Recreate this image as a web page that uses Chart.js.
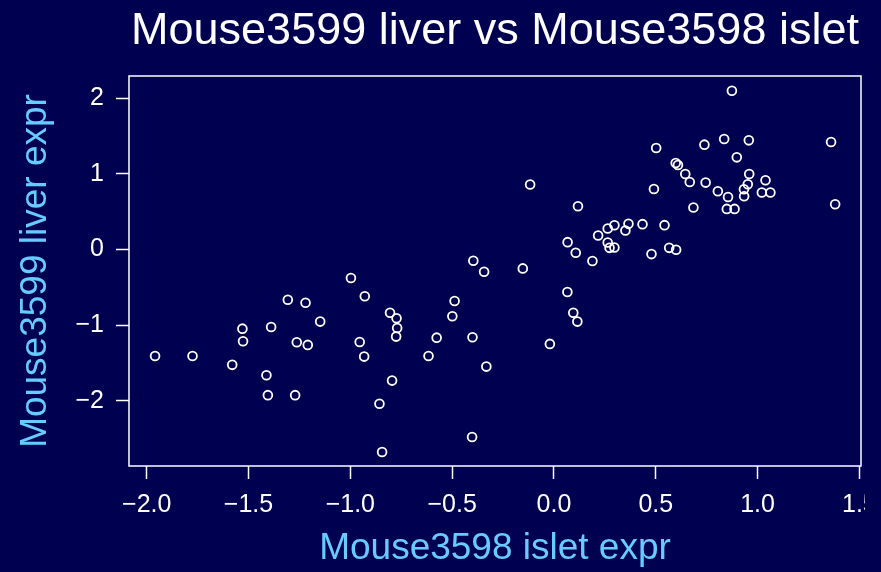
<!DOCTYPE html>
<html>
<head>
<meta charset="utf-8">
<title>Mouse3599 liver vs Mouse3598 islet</title>
<script src="https://cdn.jsdelivr.net/npm/chart.js@4.4.1/dist/chart.umd.min.js"></script>
<style>
  html, body { margin: 0; padding: 0; background: #000050; }
  canvas { display: block; }
</style>
</head>
<body>
<canvas id="myChart" width="881" height="572"></canvas>
<script>
// islet expression (x) and liver expression (y), one entry per mouse
const isletExpr = [
  -0.997, -0.929, -1.307, -1.220, -1.148, -1.530, -1.389, -1.527, -1.263, -1.209,
  -0.954, -0.932, -1.959, -1.775, -1.580, -1.412, -1.405, -1.271,
  0.066, 0.095, 0.115, -0.020, -0.488, -0.499, -0.805, -0.773, -0.770, -0.775,
  -0.576, -0.400, -0.616, -0.332, -0.795, -0.857, -0.402, -0.844,
  -0.117, 0.118, 0.264, 0.297, 0.217, 0.067, 0.264, 0.273, 0.297, 0.107,
  0.189, -0.396, -0.343, -0.153,
  0.874, 0.502, 0.739, 0.836, 0.957, 1.361, 0.898, 0.598, 0.609, 0.645,
  0.667, 0.745, 0.491, 0.959, 0.952, 1.039, 0.805, 0.933, 0.855, 0.934,
  1.021, 1.063, 1.381, 0.685, 0.849, 0.887, 0.366, 0.351, 0.435, 0.543,
  0.479, 0.566, 0.600
];
const liverExpr = [
  -0.379, -0.620, -0.665, -0.705, -0.955, -1.048, -1.026, -1.215, -1.228, -1.263,
  -1.224, -1.418, -1.409, -1.409, -1.527, -1.664, -1.928, -1.928,
  -0.564, -0.837, -0.955, -1.250, -0.682, -0.885, -0.837, -0.911, -1.039, -1.153,
  -1.167, -1.162, -1.409, -1.550, -1.735, -2.042, -2.482, -2.680,
  0.858, 0.572, 0.277, 0.320, 0.185, 0.096, 0.092, 0.021, 0.026, -0.045,
  -0.154, -0.150, -0.296, -0.251,
  2.099, 1.341, 1.386, 1.460, 1.443, 1.420, 1.218, 1.143, 1.117, 0.998,
  0.892, 0.884, 0.800, 0.998, 0.862, 0.915, 0.770, 0.796, 0.694, 0.704,
  0.752, 0.752, 0.598, 0.554, 0.536, 0.536, 0.338, 0.251, 0.334, 0.321,
  -0.062, 0.021, -0.005
];

const xTicks = [-2.0, -1.5, -1.0, -0.5, 0.0, 0.5, 1.0, 1.5];
const xTickLabels = ['\u22122.0', '\u22121.5', '\u22121.0', '\u22120.5', '0.0', '0.5', '1.0', '1.5'];
const yTicks = [-2, -1, 0, 1, 2];
const yTickLabels = ['\u22122', '\u22121', '0', '1', '2'];

const font = 'Liberation Sans, Arial, Helvetica, sans-serif';
const labelBlue = '#66ccff';

// plot frame around the chart area, plus clipping at the device edge
const frame = {
  id: 'frame',
  beforeDraw(chart) {
    const ctx = chart.ctx;
    ctx.save();
    ctx.beginPath();
    ctx.rect(0, 0, 865, chart.height);
    ctx.clip();
  },
  afterDraw(chart) {
    const ctx = chart.ctx;
    const a = chart.chartArea;
    ctx.strokeStyle = 'white';
    ctx.lineWidth = 1.5;
    ctx.strokeRect(a.left, a.top, a.right - a.left, a.bottom - a.top);
    ctx.restore();
  }
};

function fixedTicks(values) {
  return function(scale) {
    scale.ticks = values.map(v => ({ value: v }));
  };
}

window.onload = function() {
  var ctx = document.getElementById('myChart').getContext('2d');
  new Chart(ctx, {
    type: 'scatter',
    data: {
      datasets: [{
        data: isletExpr.map((x, i) => ({ x: x, y: liverExpr[i] })),
        pointStyle: 'circle',
        pointRadius: 4.4,
        pointHoverRadius: 4.4,
        borderColor: 'white',
        borderWidth: 1.8,
        backgroundColor: 'rgba(0,0,0,0)',
      }],
    },
    options: {
      responsive: false,
      animation: false,
      layout: { padding: { left: 0, right: 20, top: 0, bottom: 0 } },
      plugins: {
        legend: { display: false },
        tooltip: { enabled: false },
        title: {
          display: true,
          fullSize: false,
          text: 'Mouse3599 liver vs Mouse3598 islet',
          color: 'white',
          font: { family: font, size: 45, weight: 'normal' },
          padding: { top: 5, bottom: 17 },
        },
      },
      scales: {
        x: {
          type: 'linear',
          min: -2.087,
          max: 1.508,
          afterBuildTicks: fixedTicks(xTicks),
          afterFit(scale) {
            scale.height = 106;
            scale.paddingLeft = 0;
            scale.paddingRight = 0;
          },
          ticks: {
            includeBounds: false,
            autoSkip: false,
            maxRotation: 0,
            color: 'white',
            padding: 11,
            font: { family: font, size: 25 },
            callback: (v) => xTickLabels[xTicks.indexOf(v)],
          },
          grid: {
            display: true,
            drawOnChartArea: false,
            drawTicks: true,
            tickLength: 13,
            tickWidth: 1.5,
            tickColor: 'white',
          },
          border: { display: false },
          title: {
            display: true,
            text: 'Mouse3598 islet expr',
            color: labelBlue,
            font: { family: font, size: 37 },
            padding: { top: 0, bottom: 1 },
          },
        },
        y: {
          type: 'linear',
          min: -2.865,
          max: 2.294,
          afterBuildTicks: fixedTicks(yTicks),
          afterFit(scale) {
            scale.width = 129;
            scale.paddingTop = 0;
            scale.paddingBottom = 0;
          },
          ticks: {
            includeBounds: false,
            autoSkip: false,
            color: 'white',
            padding: 12,
            font: { family: font, size: 25 },
            callback: (v) => yTickLabels[yTicks.indexOf(v)],
          },
          grid: {
            display: true,
            drawOnChartArea: false,
            drawTicks: true,
            tickLength: 13,
            tickWidth: 1.5,
            tickColor: 'white',
          },
          border: { display: false },
          title: {
            display: true,
            text: 'Mouse3599 liver expr',
            color: labelBlue,
            font: { family: font, size: 37 },
            padding: { top: 14, bottom: 0 },
          },
        },
      },
    },
    plugins: [frame],
  });
};
</script>
</body>
</html>
